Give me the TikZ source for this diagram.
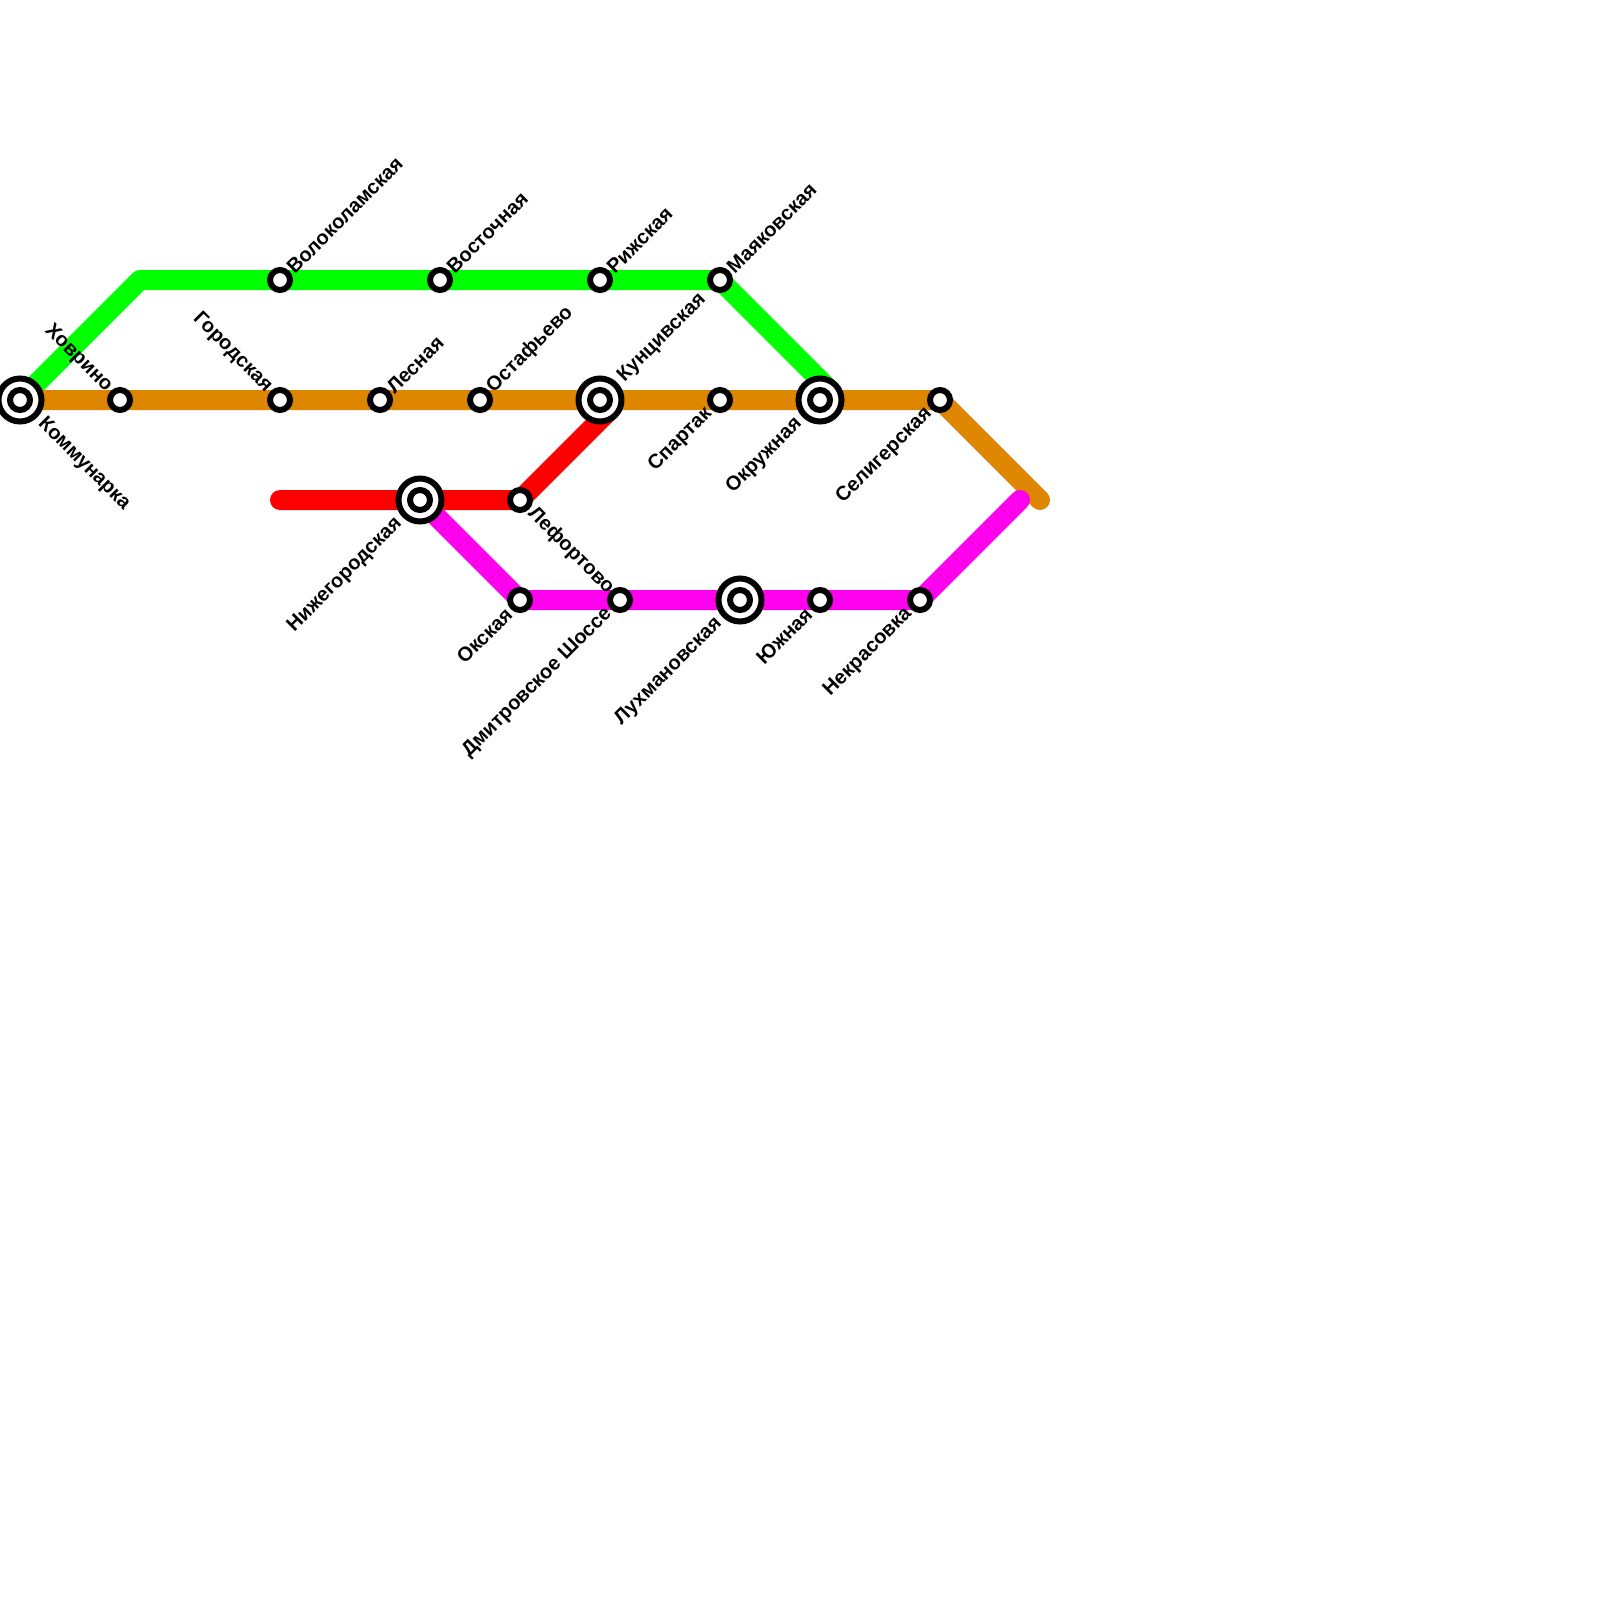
\documentclass[tikz,border=0pt]{standalone}
\usepackage{fontspec}
\setmainfont{Liberation Sans}
\definecolor{LGreen}{HTML}{00FF00}
\definecolor{LOrange}{HTML}{DF8600}
\definecolor{LRed}{HTML}{FF0000}
\definecolor{LPink}{HTML}{FF00EE}
\tikzset{
    metro/.style={line width=20pt, line cap=round, line join=round},
    station/.style={circle, draw=black, fill=white, line width=6pt, minimum size=20pt, inner sep=0pt},
    interchange/.style={circle, draw=black, fill=white, line width=6pt, minimum size=43pt, inner sep=0pt},
    lbl/.style={font=\fontsize{20}{20}\selectfont\bfseries, inner sep=0pt, text=black},
    lblNE/.style={xshift=#1pt, yshift=#1pt, lbl, anchor=west, rotate=45},
    lblNW/.style={xshift=-#1pt, yshift=#1pt, lbl, anchor=east, rotate=-45},
    lblSW/.style={xshift=-#1pt, yshift=-#1pt, lbl, anchor=east, rotate=45},
    lblSE/.style={xshift=#1pt, yshift=-#1pt, lbl, anchor=west, rotate=-45},
    lblNE/.default=10, lblNW/.default=11, lblSW/.default=11, lblSE/.default=11,
}

\begin{document}
\begin{tikzpicture}[x=1pt, y=-1pt]

    \useasboundingbox (0,0) rectangle (1600,1600);

    % Interchanges
    \foreach \name/\x/\y in {kommunarka/20/400, kuntsivskaya/600/400, okruzhnaya/820/400, nizhegorodskaya/420/500, lukhmanovskaya/740/600} {
        \coordinate (pos-\name) at (\x,\y);
    }

    % Stations
    \foreach \name/\x/\y in {khovrino/120/400, gorodskaya/280/400, lesnaya/380/400, ostafyevo/480/400, spartak/720/400, seligerskaya/940/400,
        volokolamskaya/280/280, vostochnaya/440/280, rizhskaya/600/280, mayakovskaya/720/280,
        lefortovo/520/500, okskaya/520/600, dmitrovskoe/620/600, yuzhnaya/820/600, nekrasovka/920/600} {
        \coordinate (pos-\name) at (\x,\y);
    }

    % Line ends and bends
    \coordinate (bend-green) at (140,280);
    \coordinate (end-green) at (830,390);
    \coordinate (end-orange) at (1040,500);
    \coordinate (end-red) at (280,500);
    \coordinate (tail-red) at (610,410);
    \coordinate (end-pink) at (1020,500);

    % Lines
    \draw[metro, LGreen] (pos-kommunarka) -- (bend-green) -- (pos-mayakovskaya) -- (end-green);
    \draw[metro, LOrange] (pos-kommunarka) -- (pos-seligerskaya) -- (end-orange);
    \draw[metro, LRed] (end-red) -- (pos-lefortovo) -- (tail-red);
    \draw[metro, LPink] (pos-nizhegorodskaya) -- (pos-okskaya) -- (pos-nekrasovka) -- (end-pink);

    \foreach \name in {kommunarka,kuntsivskaya,okruzhnaya,nizhegorodskaya,lukhmanovskaya} {
        \node[interchange] (big-\name) at (pos-\name) {};
        \node[station] (st-\name) at (pos-\name) {};
    }
    \foreach \name in {khovrino,gorodskaya,lesnaya,ostafyevo,spartak,seligerskaya,volokolamskaya,vostochnaya,rizhskaya,mayakovskaya,lefortovo,okskaya,dmitrovskoe,yuzhnaya,nekrasovka} {
        \node[station] (st-\name) at (pos-\name) {};
    }

    % Labels
    \foreach \name/\txt in {volokolamskaya/Волоколамская, vostochnaya/Восточная, rizhskaya/Рижская, mayakovskaya/Маяковская, lesnaya/Лесная, ostafyevo/Остафьево} {
        \node[lblNE] (lbl-\name) at (st-\name) {\txt};
    }
    \node[lblNE=21] (lbl-kuntsivskaya) at (st-kuntsivskaya) {Кунцивская};
    \foreach \name/\txt in {khovrino/Ховрино, gorodskaya/Городская} {
        \node[lblNW] (lbl-\name) at (st-\name) {\txt};
    }
    \foreach \name/\txt in {spartak/Спартак, seligerskaya/Селигерская, okskaya/Окская, dmitrovskoe/Дмитровское Шоссе, yuzhnaya/Южная, nekrasovka/Некрасовка} {
        \node[lblSW] (lbl-\name) at (st-\name) {\txt};
    }
    \foreach \name/\txt in {okruzhnaya/Окружная, nizhegorodskaya/Нижегородская, lukhmanovskaya/Лухмановская} {
        \node[lblSW=21] (lbl-\name) at (st-\name) {\txt};
    }
    \node[lblSE] (lbl-lefortovo) at (st-lefortovo) {Лефортово};
    \node[lblSE=21] (lbl-kommunarka) at (st-kommunarka) {Коммунарка};

\end{tikzpicture}
\end{document}
